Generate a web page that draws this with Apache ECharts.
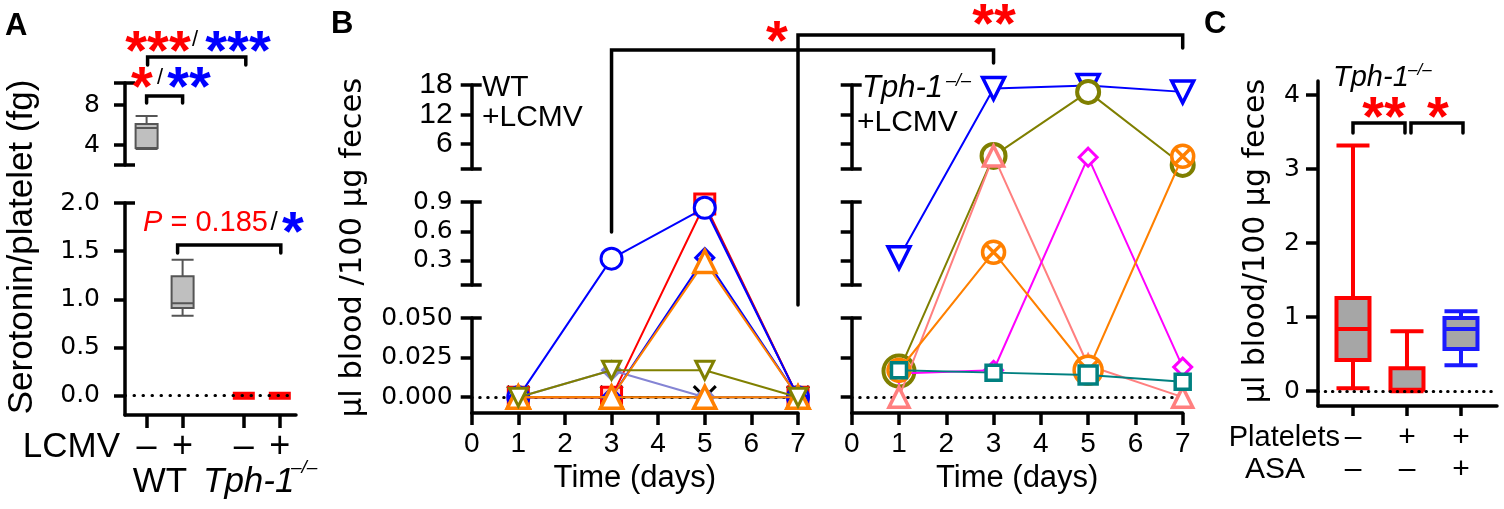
<!DOCTYPE html>
<html><head><meta charset="utf-8">
<script src="https://cdn.jsdelivr.net/npm/echarts@6/dist/echarts.min.js"></script>
<style>html,body{margin:0;padding:0;background:#fff}#c{width:1504px;height:509px}</style>
</head><body><div id="c"></div>
<script>
// ================= DATA =================
const days = [1, 3, 5, 7];
// Panel A: serotonin/platelet (fg), boxes [min, Q1, median, Q3, max]
const aPos = [1, 2, 3.7, 4.7];
const aLCMV = ['–', '+', '–', '+'];
const aWTnoLCMV = [3.6, 3.7, 5.7, 6.1, 6.9];
const aWTLCMV = [0.83, 0.91, 0.96, 1.24, 1.41];
const aKOnoLCMV = [0, 0, 0, 0, 0];
const aKOLCMV = [0, 0, 0, 0, 0];
// Panel B, WT + LCMV (µl blood / 100 µg feces), one array per mouse, days 1,3,5,7
const wtCross = [0, 0, 0, 0];
const wtRedSquare = [0, 0, 0.88, 0];
const wtPurpleLine = [null, null, 0.86, 0];
const wtLavenderDiamond = [0, 0.017, 0, 0];
const wtBlueCircle = [0, 0.32, 0.84, 0];
const wtBlueDiamond = [0, 0, 0.33, 0];
const wtOrangeTriangle = [0, 0, 0.29, 0];
const wtOrangeTriangle2 = [0, 0, 0, 0];
const wtOliveTriangle = [0, 0.017, 0.017, 0];
// Panel B, Tph-1-/- + LCMV
const koBlueTriangle = [0.33, 17.3, 17.9, 16.6];
const koOliveCircle = [0.0165, 3.56, 16.6, 1.73];
const koSalmonTriangle = [0, 3.56, 0.02, 0];
const koMagentaDiamond = [0.015, 0.017, 3.3, 0.019];
const koOrangeCrossCircle = [0.017, 0.386, 0.017, 3.5];
const koTealSquare = [0.017, 0.0155, 0.014, 0.0097];
// Panel C, boxes [min, Q1, median, Q3, max]
const cPos = [1, 2, 3];
const cPlatelets = ['–', '+', '+'];
const cASA = ['–', '–', '+'];
const cNoPlatelets = [0.04, 0.42, 0.84, 1.26, 3.32];
const cPlatelet = [0, 0.02, 0.02, 0.31, 0.81];
const cPlateletASA = [0.35, 0.57, 0.84, 0.99, 1.08];

// ================= LAYOUT / STYLE =================
const FONT = '"Liberation Sans", Arial, Helvetica, sans-serif';
const WIDE = '"DejaVu Sans", sans-serif';
const grids = [], xAxes = [], yAxes = [], series = [];
const axLine = {show: true, onZero: false, lineStyle: {color: '#000', width: 3.5}};
const tickStyle = {color: '#000', width: 3.5};
const labelBase = {show: true, color: '#000', hideOverlap: false, showMinLabel: true, showMaxLabel: true};

function grid(left, top, width, height) {
  grids.push({left, top, width, height, containLabel: false, outerBoundsMode: 'none'});
  return grids.length - 1;
}
function xAxis(gi, min, max, extra) {
  xAxes.push(Object.assign({gridIndex: gi, type: 'value', min, max, splitLine: {show: false}}, extra));
  return xAxes.length - 1;
}
function yAxis(gi, min, max, extra) {
  yAxes.push(Object.assign({gridIndex: gi, type: 'value', min, max, splitLine: {show: false}}, extra));
  return yAxes.length - 1;
}
function nearest(arr, v) {
  let b = 0; arr.forEach((a, i) => { if (Math.abs(a - v) < Math.abs(arr[b] - v)) b = i; }); return b;
}
// one axis segment: line + outside ticks, crossing caps, and one label layer per tick value
function segAxis(gi, min, max, ticks, caps, label) {
  const y = yAxis(gi, min, max, {
    position: 'left',
    axisLine: axLine,
    axisTick: {show: true, inside: false, length: 11, customValues: ticks.concat(caps), lineStyle: tickStyle},
    axisLabel: {show: false}
  });
  if (caps.length) {
    yAxis(gi, min, max, {position: 'left', axisLine: {show: false},
      axisTick: {show: true, inside: true, length: 10, customValues: caps, lineStyle: tickStyle},
      axisLabel: {show: false}});
  }
  if (label) {
    ticks.forEach(t => yAxis(gi, min, max, {position: 'left', axisLine: {show: false}, axisTick: {show: false},
      axisLabel: Object.assign({}, labelBase, {customValues: [t]}, label)}));
  }
  return y;
}
function dottedZero(xi, yi, yVal, gap) {
  series.push({type: 'line', xAxisIndex: xi, yAxisIndex: yi, data: [], silent: true, z: 1,
    markLine: {silent: true, symbol: 'none', label: {show: false}, animation: false,
      lineStyle: {color: '#000', width: 3, type: [0.5, gap], cap: 'round'},
      emphasis: {disabled: true}, data: [{yAxis: yVal}]}});
}

// ---------- Panel A ----------
const boxGray = {color: '#bfbfbf', borderColor: '#555', borderWidth: 2};
const redBar = {color: '#ff0000', borderColor: '#ff0000', borderWidth: 8};
const gAt = grid(125, 83, 171, 82);
const xAt = xAxis(gAt, 0.4, 5.15, {show: false});
const yAt = segAxis(gAt, 2, 10.2, [4, 8], [2, 10.2],
  {fontFamily: WIDE, fontSize: 25, lineHeight: 22, margin: 25, formatter: v => String(Math.round(v))});
const gAb = grid(125, 203, 171, 212);
const xAb = xAxis(gAb, 0.4, 5.15, {
  axisLine: axLine,
  axisTick: {show: true, length: 13, customValues: aPos, lineStyle: tickStyle},
  axisLabel: Object.assign({}, labelBase, {customValues: aPos, formatter: v => aLCMV[nearest(aPos, v)],
    fontFamily: FONT, fontSize: 36, lineHeight: 36, margin: 14})
});
const yAb = segAxis(gAb, -0.2, 2.0, [0, 0.5, 1, 1.5, 2], [2],
  {fontFamily: WIDE, fontSize: 25, lineHeight: 22, margin: 25, formatter: v => (+v).toFixed(1)});
dottedZero(xAb, yAb, 0, 8.5);
series.push({type: 'boxplot', layout: 'horizontal', xAxisIndex: xAt, yAxisIndex: yAt, boxWidth: [22, 22], z: 3,
  data: [{value: [aPos[0]].concat(aWTnoLCMV), itemStyle: boxGray}]});
series.push({type: 'boxplot', layout: 'horizontal', xAxisIndex: xAb, yAxisIndex: yAb, boxWidth: [22, 22], z: 3,
  data: [
    {value: [aPos[1]].concat(aWTLCMV), itemStyle: boxGray},
    {value: [aPos[2]].concat(aKOnoLCMV), itemStyle: redBar},
    {value: [aPos[3]].concat(aKOLCMV), itemStyle: redBar}
  ]});

// ---------- Panel B (broken y axis) ----------
const B_TOP = 85, B_BOTTOM = 413;
const segB = [
  {min: -0.01, max: 0.05, top: 318, height: 95, ticks: [0, 0.025, 0.05], caps: [0.05],
   label: {fontFamily: WIDE, fontSize: 25, lineHeight: 22, margin: 19, formatter: v => (+v).toFixed(3)}},
  {min: 0.05, max: 0.9, top: 202, height: 83, ticks: [0.3, 0.6, 0.9], caps: [0.05, 0.9],
   label: {fontFamily: WIDE, fontSize: 25, lineHeight: 22, margin: 19, formatter: v => (+v).toFixed(1)}},
  {min: 0.9, max: 18, top: 85, height: 84, ticks: [6, 12, 18], caps: [0.9, 18],
   label: {fontFamily: FONT, fontSize: 30, lineHeight: 24, margin: 19, formatter: v => String(Math.round(v))}}
];
// scale of the broken axis: value -> position (in px above the x axis)
function T(v) {
  if (v == null) return '-';
  const s = v <= segB[0].max ? segB[0] : (v <= segB[1].max ? segB[1] : segB[2]);
  const y = s.top + (s.max - v) / (s.max - s.min) * s.height;
  return B_BOTTOM - y;
}
const DOWN = 180;
const crossPath = 'path://M0,0L20,20M20,0L0,20';
const circleCross = 'path://M10,0A10,10,0,1,1,10,20A10,10,0,1,1,10,0ZM2.9,2.9L17.1,17.1M17.1,2.9L2.9,17.1';

function panelB(left, width, showLabels, mice) {
  segB.forEach(s => {
    const g = grid(left, s.top, width, s.height);
    xAxis(g, 0, 7, {show: false});
    segAxis(g, s.min, s.max, s.ticks, s.caps, showLabels ? s.label : null);
  });
  const g = grid(left, B_TOP, width, B_BOTTOM - B_TOP);
  const xi = xAxis(g, 0, 7, {
    interval: 1,
    axisLine: axLine,
    axisTick: {show: true, length: 12, lineStyle: tickStyle},
    axisLabel: Object.assign({}, labelBase, {fontFamily: FONT, fontSize: 28, lineHeight: 28, margin: 17}),
    name: 'Time (days)', nameLocation: 'middle', nameGap: 50,
    nameTextStyle: {fontFamily: FONT, fontSize: 31, lineHeight: 31, color: '#000'}
  });
  const yi = yAxis(g, 0, B_BOTTOM - B_TOP, {show: false});
  dottedZero(xi, yi, T(0), 7.5);
  mice.forEach((m, k) => {
    const sizes = m.sizes;
    series.push({
      type: 'line', xAxisIndex: xi, yAxisIndex: yi, z: 10 + k, clip: false, silent: true,
      data: days.map((d, i) => [d, T(m.v[i])]),
      symbol: m.sym || 'none',
      symbolSize: sizes ? ((val, p) => sizes[p.dataIndex]) : (m.size || 18),
      symbolRotate: m.rot || 0,
      showAllSymbol: true, connectNulls: false,
      lineStyle: {color: m.line || m.c, width: 2},
      itemStyle: {color: m.fill || '#fff', borderColor: m.c, borderWidth: m.bw || 3}
    });
  });
  return xi;
}
const xBL = panelB(471.7, 326.3, true, [
  {v: wtCross, c: '#000', sym: crossPath, size: 22, bw: 3},
  {v: wtRedSquare, c: '#ff0000', sym: 'rect', size: 20, fill: '#ffd0d0'},
  {v: wtPurpleLine, c: '#8b0a5a', sym: 'none'},
  {v: wtLavenderDiamond, c: '#8484d4', sym: 'diamond', size: 18, fill: '#a8a8e6'},
  {v: wtBlueCircle, c: '#0000ff', sym: 'circle', size: 21},
  {v: wtBlueDiamond, c: '#0000ff', sym: 'diamond', size: 18, fill: '#d8d8ff'},
  {v: wtOrangeTriangle2, c: '#ff8000', sym: 'triangle', size: 22, bw: 3.5},
  {v: wtOrangeTriangle, c: '#ff8000', sym: 'triangle', size: 22, bw: 3.5},
  {v: wtOliveTriangle, c: '#808000', sym: 'triangle', rot: DOWN, size: 18}
]);
const xBR = panelB(851.7, 331, false, [
  {v: koBlueTriangle, c: '#0000ff', sym: 'triangle', rot: DOWN, size: 22, bw: 3.5},
  {v: koOliveCircle, c: '#7f7f00', sym: 'circle', sizes: [31, 24, 22, 22], bw: 4},
  {v: koSalmonTriangle, c: '#ff7f7f', sym: 'triangle', size: 20, bw: 3.5},
  {v: koMagentaDiamond, c: '#ff00ff', sym: 'diamond', size: 18},
  {v: koOrangeCrossCircle, c: '#ff8000', sym: circleCross, sizes: [22, 22, 28, 22], bw: 3.5},
  {v: koTealSquare, c: '#008080', sym: 'rect', sizes: [15, 15, 18, 15], bw: 3.5}
]);

// ---------- Panel C ----------
const gC = grid(1318, 81, 179, 325);
const xC = xAxis(gC, 0.352, 3.667, {
  axisLine: axLine,
  axisTick: {show: true, length: 10, customValues: cPos, lineStyle: tickStyle},
  axisLabel: Object.assign({}, labelBase, {customValues: cPos,
    formatter: v => { const i = nearest(cPos, v); return cPlatelets[i] + '\n' + cASA[i]; },
    fontFamily: FONT, fontSize: 30, lineHeight: 32, margin: 16})
});
const yC = yAxis(gC, -0.2, 4.19, {
  position: 'left', axisLine: axLine,
  axisTick: {show: true, length: 12, customValues: [0, 1, 2, 3, 4], lineStyle: tickStyle},
  axisLabel: Object.assign({}, labelBase, {customValues: [0, 1, 2, 3, 4], fontFamily: WIDE, fontSize: 25,
    lineHeight: 22, margin: 18, formatter: v => String(Math.round(v))})
});
dottedZero(xC, yC, 0, 6.7);
const cRed = {color: '#a6a6a6', borderColor: '#ff0000', borderWidth: 4};
const cBlue = {color: '#a6a6a6', borderColor: '#1a1aff', borderWidth: 4};
series.push({type: 'boxplot', layout: 'horizontal', xAxisIndex: xC, yAxisIndex: yC, boxWidth: [33, 33], z: 3,
  data: [
    {value: [cPos[0]].concat(cNoPlatelets), itemStyle: cRed},
    {value: [cPos[1]].concat(cPlatelet), itemStyle: cRed},
    {value: [cPos[2]].concat(cPlateletASA), itemStyle: cBlue}
  ]});

const option = {animation: false, backgroundColor: '#fff', grid: grids, xAxis: xAxes, yAxis: yAxes, series: series};
const chart = echarts.init(document.getElementById('c'), null, {renderer: 'canvas', width: 1504, height: 509});
chart.setOption(option);

// ================= ANNOTATIONS =================
const xp = (xi, v) => chart.convertToPixel({xAxisIndex: xi}, v);
function txt(x, y, text, o) {
  o = o || {};
  return {type: 'text', x, y, rotation: o.rot || 0, z: 100, silent: true,
    style: {text, fill: o.color || '#000', fontSize: o.size || 30, fontFamily: o.family || FONT,
      fontWeight: o.weight || 'normal', fontStyle: o.italic ? 'italic' : 'normal',
      align: o.align || 'center', verticalAlign: 'middle', rich: o.rich}};
}
function stars(xc, yc, n, color) {
  const fs = 56;
  return txt(xc, yc + 0.21 * fs, '*'.repeat(n), {color, size: fs, weight: 'bold'});
}
function bracket(x1, x2, y, yLeg1, yLeg2) {
  return {type: 'polyline', z: 100, silent: true,
    shape: {points: [[x1, yLeg1], [x1, y], [x2, y], [x2, yLeg2 == null ? yLeg1 : yLeg2]]},
    style: {stroke: '#000', lineWidth: 3.5, fill: null, lineCap: 'round', lineJoin: 'miter'}};
}
const RED = '#ff0000', BLUE = '#0000ff';
const els = [
  // panel letters
  txt(5, 26, 'A', {align: 'left', weight: 'bold', size: 31}),
  txt(331, 24, 'B', {align: 'left', weight: 'bold', size: 31}),
  txt(1204, 24, 'C', {align: 'left', weight: 'bold', size: 31}),
  // panel A
  txt(22.5, 247, 'Serotonin/platelet (fg)', {size: 35, rot: Math.PI / 2}),
  txt(120, 447, 'LCMV', {align: 'right', size: 35}),
  txt(160, 482, 'WT', {size: 35}),
  txt(203, 482, 'Tph-1', {align: 'left', size: 35, italic: true}),
  txt(291, 468, '–/–', {align: 'left', size: 19, italic: true}),
  stars(158, 42, 3, RED), txt(195, 40, '/', {size: 22}), stars(238, 42, 3, BLUE),
  bracket(xp(xAb, aPos[0]) + 1, xp(xAb, aPos[2]) + 2, 57, 65),
  stars(142, 78, 1, RED), txt(160, 78, '/', {size: 22}), stars(189, 78, 2, BLUE),
  bracket(xp(xAb, aPos[0]), xp(xAb, aPos[1]), 96, 103),
  txt(143, 222.5, '{i|P}{n| = 0.185}', {align: 'left', color: RED, size: 29,
    rich: {i: {fontStyle: 'italic', fontSize: 29, fontFamily: FONT, fill: RED, color: RED},
           n: {fontSize: 29, fontFamily: FONT, fill: RED, color: RED}}}),
  txt(274, 222.5, '/', {size: 26}),
  stars(293, 223, 1, BLUE),
  bracket(xp(xAb, aPos[1]) - 5, xp(xAb, aPos[3]) + 1, 245, 253),
  // panel B
  txt(353, 247.5, 'µl blood /100 µg feces', {size: 30.5, family: WIDE, rot: Math.PI / 2}),
  txt(482, 87.5, 'WT', {align: 'left', size: 30}),
  txt(482, 117.5, '+LCMV', {align: 'left', size: 30}),
  txt(862, 88, 'Tph-1', {align: 'left', size: 31, italic: true}),
  txt(946, 81, '–/–', {align: 'left', size: 18, italic: true}),
  txt(857, 123, '+LCMV', {align: 'left', size: 30}),
  bracket(xp(xBL, 3), xp(xBR, 3), 50, 232, 63),
  bracket(xp(xBL, 7), xp(xBR, 7), 35, 305, 48),
  stars(777, 32, 1, RED),
  stars(994, 15, 2, RED),
  // panel C
  txt(1256, 241, 'µl blood/100 µg feces', {size: 30, family: WIDE, rot: Math.PI / 2}),
  txt(1333, 78, 'Tph-1', {align: 'left', size: 29, italic: true}),
  txt(1408, 70, '–/–', {align: 'left', size: 17, italic: true}),
  txt(1340, 438, 'Platelets', {align: 'right', size: 29}),
  txt(1305, 470, 'ASA', {align: 'right', size: 30}),
  stars(1384, 108, 2, RED),
  stars(1438, 108, 1, RED),
  bracket(xp(xC, cPos[0]), xp(xC, cPos[1]) - 2, 123, 133),
  bracket(xp(xC, cPos[1]) + 4, xp(xC, cPos[2]) + 2, 123, 133)
];
chart.setOption({graphic: {elements: els}});
</script></body></html>
